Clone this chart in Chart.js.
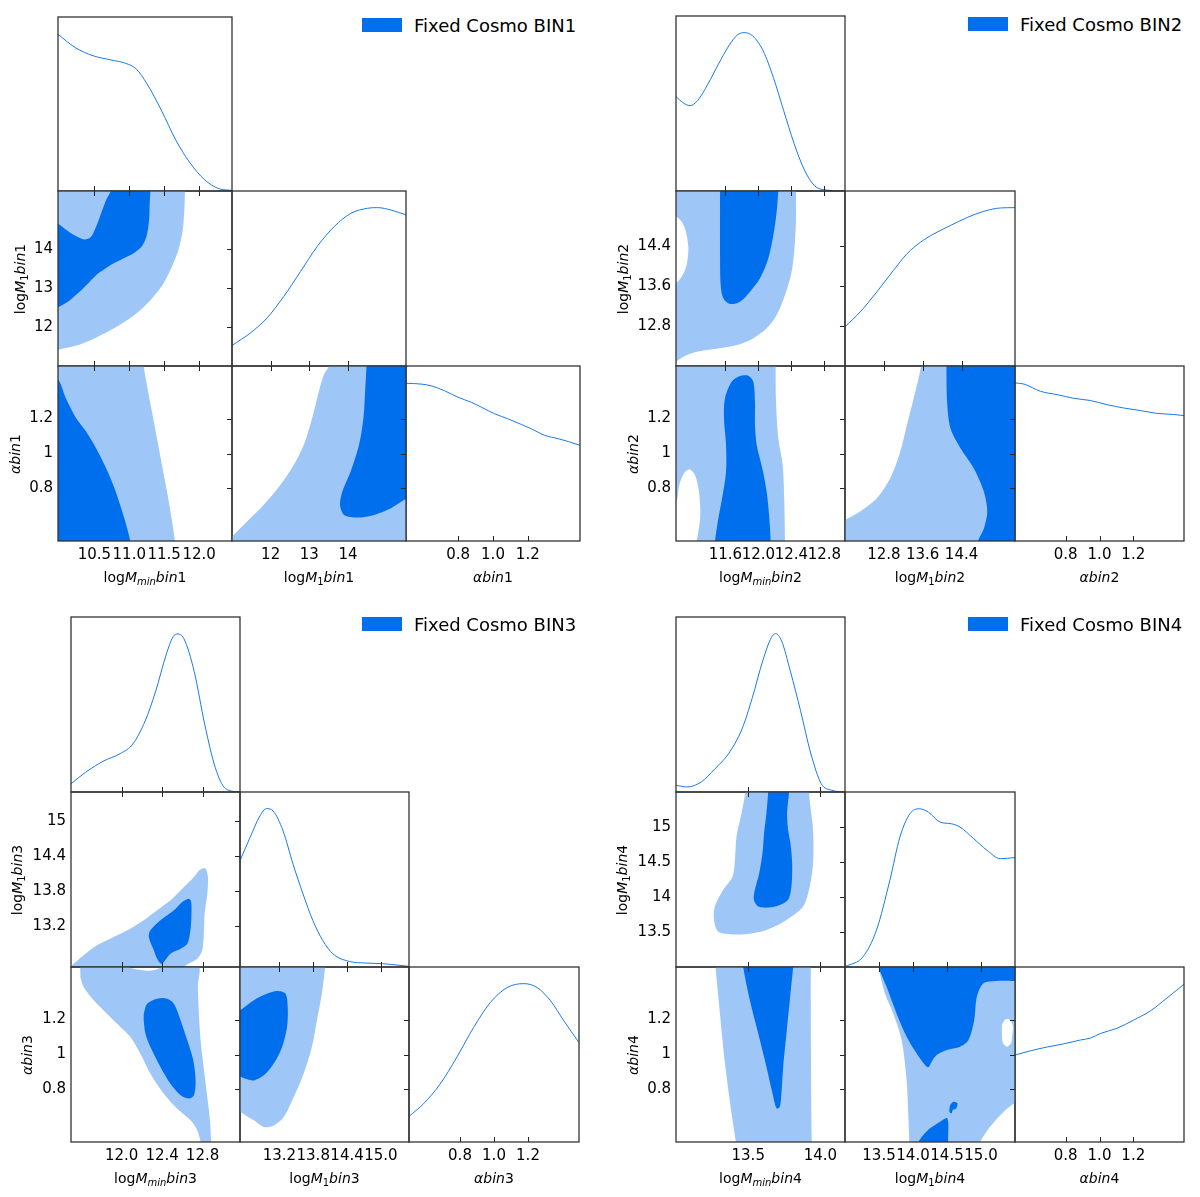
<!DOCTYPE html>
<html><head><meta charset="utf-8">
<script src="https://cdn.jsdelivr.net/npm/chart.js@4.4.0/dist/chart.umd.min.js"></script>
<style>
html,body{margin:0;padding:0;background:#fff;}
body{width:1200px;height:1197px;position:relative;overflow:hidden;font-family:'DejaVu Sans',sans-serif;}
canvas{position:absolute;}
.lab{position:absolute;font-size:14px;white-space:nowrap;color:#000;line-height:1;}
.lab sub{font-size:10px;vertical-align:baseline;position:relative;top:3px;}
.legbox{position:absolute;width:40px;height:14px;background:#006fed;}
.legtxt{position:absolute;font-size:18px;white-space:nowrap;color:#000;line-height:1;transform:translateY(-50%);}
</style></head>
<body>
<script>
// ---------------- axis ranges ----------------
const alphaRange=[0.5,1.5];
const pdfRange=[0,1.105];
const bin1MminRange=[9.98,12.47], bin1M1Range=[11.0,15.5];
const bin2MminRange=[11.0,13.05], bin2M1Range=[12.0,15.5];
const bin3MminRange=[11.5,13.17], bin3M1Range=[12.5,15.5];
const bin4MminRange=[13.0,14.17], bin4M1Range=[13.0,15.5];

// ---------------- ticks ----------------
const alphaTicks=[0.8,1.0,1.2], alphaYLabels=['0.8','1','1.2'], alphaXLabels=['0.8','1.0','1.2'];
const bin1MminTicks=[10.5,11.0,11.5,12.0], bin1MminLabels=['10.5','11.0','11.5','12.0'];
const bin1M1Ticks=[12,13,14], bin1M1YLabels=['12','13','14'], bin1M1XLabels=['12','13','14'];
const bin2MminTicks=[11.6,12.0,12.4,12.8], bin2MminLabels=['11.6','12.0','12.4','12.8'];
const bin2M1Ticks=[12.8,13.6,14.4], bin2M1YLabels=['12.8','13.6','14.4'], bin2M1XLabels=['12.8','13.6','14.4'];
const bin3MminTicks=[12.0,12.4,12.8], bin3MminLabels=['12.0','12.4','12.8'];
const bin3M1Ticks=[13.2,13.8,14.4,15.0], bin3M1YLabels=['13.2','13.8','14.4','15'], bin3M1XLabels=['13.2','13.8','14.4','15.0'];
const bin4MminTicks=[13.5,14.0], bin4MminLabels=['13.5','14.0'];
const bin4M1Ticks=[13.5,14.0,14.5,15.0], bin4M1YLabels=['13.5','14','14.5','15'], bin4M1XLabels=['13.5','14.0','14.5','15.0'];

// ---------------- 1D marginals (normalised to peak 1) ----------------
const bin1MminPdf=[[9.98,0.995],[10.226,0.911],[10.483,0.859],[10.74,0.832],[10.946,0.811],[11.10,0.775],[11.253,0.681],[11.459,0.513],[11.664,0.325],[11.87,0.178],[12.074,0.073],[12.28,0.015],[12.47,0.004]];
const bin1M1Pdf=[[11.0,0.13],[11.477,0.209],[11.909,0.304],[12.341,0.44],[12.773,0.597],[13.205,0.755],[13.642,0.88],[14.074,0.964],[14.506,0.996],[14.767,1.0],[15.109,0.985],[15.5,0.954]];
const bin1AlphaPdf=[[0.5,0.996],[0.587,0.991],[0.644,0.98],[0.721,0.949],[0.798,0.908],[0.875,0.876],[0.933,0.845],[1.01,0.803],[1.087,0.771],[1.163,0.736],[1.221,0.708],[1.298,0.667],[1.375,0.646],[1.433,0.628],[1.5,0.604]];
const bin2MminPdf=[[11.0,0.596],[11.076,0.561],[11.17,0.539],[11.262,0.571],[11.387,0.675],[11.515,0.801],[11.64,0.916],[11.744,0.985],[11.826,1.0],[11.931,0.979],[12.056,0.886],[12.181,0.717],[12.306,0.508],[12.433,0.299],[12.558,0.132],[12.683,0.032],[12.808,0.007],[13.05,0.0]];
const bin2M1Pdf=[[12.0,0.248],[12.312,0.341],[12.655,0.468],[12.998,0.604],[13.274,0.708],[13.551,0.781],[13.827,0.834],[14.17,0.887],[14.517,0.938],[14.86,0.977],[15.203,0.998],[15.5,1.0]];
const bin2AlphaPdf=[[0.5,0.998],[0.553,0.991],[0.651,0.945],[0.75,0.924],[0.848,0.901],[0.946,0.887],[1.044,0.861],[1.142,0.84],[1.241,0.824],[1.339,0.806],[1.437,0.799],[1.5,0.792]];
const bin3MminPdf=[[11.5,0.052],[11.645,0.125],[11.817,0.194],[11.991,0.244],[12.111,0.303],[12.233,0.449],[12.337,0.637],[12.44,0.866],[12.509,0.981],[12.55,0.998],[12.614,0.97],[12.717,0.762],[12.821,0.428],[12.925,0.156],[13.028,0.021],[13.17,0.0]];
const bin3M1Pdf=[[12.5,0.671],[12.677,0.817],[12.854,0.954],[12.971,1.0],[13.088,0.985],[13.265,0.859],[13.442,0.649],[13.619,0.461],[13.793,0.294],[13.97,0.167],[14.147,0.084],[14.441,0.035],[14.735,0.025],[15.029,0.021],[15.323,0.011],[15.5,0.004]];
const bin3AlphaPdf=[[0.5,0.162],[0.585,0.241],[0.683,0.366],[0.781,0.535],[0.88,0.723],[0.978,0.88],[1.077,0.975],[1.175,1.0],[1.254,0.975],[1.333,0.891],[1.411,0.765],[1.5,0.628]];
const bin4MminPdf=[[13.0,0.042],[13.078,0.032],[13.174,0.063],[13.269,0.146],[13.363,0.241],[13.457,0.398],[13.529,0.597],[13.6,0.827],[13.66,0.975],[13.689,1.0],[13.731,0.954],[13.791,0.765],[13.862,0.514],[13.934,0.241],[14.005,0.053],[14.078,0.011],[14.17,0.0]];
const bin4M1Pdf=[[13.0,0.002],[13.265,0.065],[13.463,0.233],[13.66,0.548],[13.808,0.821],[13.955,0.968],[14.093,0.999],[14.225,0.978],[14.398,0.915],[14.57,0.904],[14.693,0.883],[14.89,0.811],[15.088,0.737],[15.283,0.684],[15.5,0.691]];
const bin4AlphaPdf=[[0.5,0.549],[0.592,0.576],[0.691,0.6],[0.789,0.62],[0.887,0.644],[0.946,0.656],[1.005,0.685],[1.103,0.718],[1.201,0.769],[1.3,0.827],[1.398,0.908],[1.5,0.996]];

// ---------------- 2D contours (68% dark, 95% light) ----------------
// bin1
const b1_M1Mmin_95=[[9.85,11.30],[9.98,11.415],[10.235,11.518],[10.475,11.69],[10.716,11.906],[10.956,12.164],[11.148,12.422],[11.317,12.723],[11.485,13.11],[11.605,13.541],[11.701,13.971],[11.764,14.487],[11.788,15.004],[11.797,15.52],[11.80,15.69],[9.85,15.69]];
const b1_M1Mmin_68=[[9.85,12.42],[9.98,12.508],[10.14,12.68],[10.28,12.895],[10.427,13.153],[10.547,13.369],[10.619,13.455],[10.764,13.627],[10.908,13.756],[11.052,13.885],[11.172,14.057],[11.244,14.315],[11.283,14.745],[11.292,15.176],[11.302,15.52],[11.302,15.69],[10.74,15.69],[10.74,15.52],[10.667,15.262],[10.595,14.918],[10.523,14.573],[10.45,14.315],[10.355,14.255],[10.235,14.341],[10.09,14.513],[9.98,14.659],[9.85,14.745]];
const b1_AMmin_95=[[9.85,1.53],[11.206,1.53],[11.206,1.5],[11.268,1.357],[11.341,1.204],[11.413,1.051],[11.485,0.898],[11.557,0.745],[11.605,0.63],[11.653,0.5],[11.663,0.458],[9.85,0.458]];
const b1_AMmin_68=[[9.85,1.433],[9.98,1.424],[10.09,1.318],[10.235,1.204],[10.379,1.127],[10.523,1.032],[10.667,0.917],[10.788,0.802],[10.884,0.687],[10.956,0.592],[11.014,0.5],[11.023,0.458],[9.85,0.458]];
const b1_AM1_95=[[10.87,0.458],[10.87,0.5],[11.0,0.525],[11.389,0.611],[11.822,0.707],[12.254,0.821],[12.6,0.936],[12.86,1.051],[13.076,1.204],[13.249,1.357],[13.379,1.452],[13.509,1.5],[13.509,1.53],[15.63,1.53],[15.63,0.458]];
const b1_AM1_68=[[14.478,1.53],[14.478,1.5],[14.443,1.357],[14.4,1.204],[14.287,1.051],[14.071,0.898],[13.855,0.783],[13.794,0.707],[13.898,0.649],[14.244,0.634],[14.677,0.649],[15.109,0.687],[15.498,0.741],[15.63,0.754],[15.63,1.53]];
// bin2
const b2_M1Mmin_95=[[10.927,12.02],[11.0,12.087],[11.089,12.187],[11.21,12.267],[11.372,12.32],[11.574,12.367],[11.776,12.433],[11.938,12.553],[12.1,12.753],[12.221,13.02],[12.322,13.42],[12.403,13.887],[12.44,14.42],[12.456,14.953],[12.456,15.5],[12.464,15.62],[10.927,15.62]];
const b2_M1Mmin_hole=[[10.927,14.987],[11.0,14.987],[11.069,14.887],[11.121,14.687],[11.15,14.353],[11.129,14.02],[11.081,13.82],[11.0,13.653],[10.927,13.653]];
const b2_M1Mmin_68=[[11.534,15.62],[11.534,15.5],[11.534,14.953],[11.534,14.287],[11.542,13.62],[11.574,13.353],[11.655,13.24],[11.776,13.287],[11.898,13.487],[12.019,13.753],[12.12,14.153],[12.181,14.62],[12.221,15.087],[12.241,15.5],[12.241,15.62]];
const b2_AMmin_95=[[10.927,1.525],[12.209,1.525],[12.209,1.5],[12.213,1.296],[12.241,1.087],[12.294,0.934],[12.314,0.725],[12.322,0.5],[12.326,0.458],[10.927,0.458]];
const b2_AMmin_hole=[[10.927,0.706],[11.0,0.715],[11.04,0.82],[11.097,0.887],[11.162,0.91],[11.23,0.877],[11.279,0.782],[11.295,0.649],[11.271,0.553],[11.251,0.5],[11.243,0.458],[10.927,0.458]];
const b2_AMmin_68=[[11.465,0.458],[11.473,0.5],[11.514,0.63],[11.566,0.763],[11.607,0.896],[11.607,1.049],[11.582,1.201],[11.594,1.315],[11.675,1.41],[11.776,1.443],[11.877,1.445],[11.938,1.41],[11.958,1.296],[11.958,1.163],[11.979,1.049],[12.047,0.915],[12.1,0.782],[12.132,0.63],[12.148,0.5],[12.152,0.458]];
const b2_AM1_95=[[11.897,0.458],[11.897,0.61],[12.0,0.62],[12.31,0.668],[12.655,0.744],[12.93,0.858],[13.137,1.01],[13.275,1.163],[13.413,1.315],[13.516,1.43],[13.564,1.5],[13.571,1.525],[15.618,1.525],[15.618,0.458]];
const b2_AM1_68=[[14.088,1.525],[14.088,1.5],[14.102,1.296],[14.171,1.144],[14.378,1.03],[14.653,0.915],[14.86,0.782],[14.929,0.668],[14.86,0.572],[14.736,0.5],[14.708,0.458],[15.618,0.458],[15.618,1.525]];
// bin3
const b3_M1Mmin_95=[[11.477,12.471],[11.51,12.529],[11.625,12.7],[11.757,12.871],[11.922,13.014],[12.087,13.157],[12.219,13.3],[12.351,13.471],[12.483,13.643],[12.616,13.871],[12.715,14.043],[12.781,14.174],[12.83,14.186],[12.853,14.043],[12.847,13.757],[12.82,13.414],[12.814,13.129],[12.797,12.786],[12.748,12.643],[12.649,12.546],[12.583,12.471]];
const b3_M1Mmin_68=[[12.318,12.786],[12.269,13.014],[12.285,13.129],[12.384,13.3],[12.517,13.471],[12.599,13.614],[12.665,13.671],[12.688,13.614],[12.688,13.3],[12.675,13.071],[12.649,12.9],[12.583,12.814],[12.483,12.729],[12.417,12.586],[12.391,12.557],[12.351,12.643]];
const b3_AMmin_95=[[11.592,1.443],[11.625,1.386],[11.724,1.31],[11.856,1.233],[11.988,1.157],[12.087,1.1],[12.186,1.005],[12.285,0.89],[12.417,0.776],[12.55,0.69],[12.682,0.624],[12.748,0.567],[12.781,0.5],[12.787,0.471],[12.893,0.471],[12.886,0.5],[12.873,0.624],[12.847,0.757],[12.814,0.91],[12.781,1.081],[12.764,1.233],[12.754,1.386],[12.754,1.52],[12.39,1.52],[12.384,1.496],[12.285,1.479],[12.186,1.483],[12.071,1.498],[12.06,1.52],[11.61,1.52]];
const b3_AMmin_68=[[12.219,1.233],[12.252,1.29],[12.351,1.319],[12.45,1.319],[12.517,1.29],[12.583,1.195],[12.649,1.081],[12.708,0.967],[12.731,0.852],[12.715,0.767],[12.665,0.748],[12.583,0.767],[12.483,0.833],[12.384,0.929],[12.285,1.043],[12.236,1.119],[12.219,1.195]];
const b3_AM1_95=[[12.394,0.662],[12.5,0.671],[12.6,0.652],[12.747,0.624],[12.924,0.586],[13.1,0.595],[13.276,0.643],[13.453,0.757],[13.629,0.89],[13.776,1.043],[13.865,1.195],[13.953,1.348],[14.012,1.5],[14.018,1.529],[12.394,1.529]];
const b3_AM1_68=[[12.394,1.233],[12.5,1.252],[12.747,1.31],[12.982,1.348],[13.159,1.363],[13.306,1.348],[13.347,1.271],[13.335,1.157],[13.247,1.043],[13.1,0.948],[12.924,0.881],[12.747,0.852],[12.629,0.858],[12.5,0.875],[12.394,0.881]];
// bin4
const b4_M1Mmin_95=[[13.481,15.581],[13.481,15.5],[13.454,15.199],[13.419,14.865],[13.408,14.531],[13.392,14.293],[13.327,14.102],[13.269,13.864],[13.263,13.673],[13.292,13.506],[13.373,13.468],[13.488,13.472],[13.626,13.53],[13.765,13.673],[13.88,13.864],[13.926,14.15],[13.949,14.484],[13.949,14.961],[13.93,15.295],[13.921,15.5],[13.921,15.581]];
const b4_M1Mmin_68=[[13.638,15.581],[13.638,15.5],[13.626,15.199],[13.61,14.913],[13.599,14.627],[13.576,14.341],[13.546,14.102],[13.539,13.959],[13.569,13.864],[13.638,13.849],[13.719,13.887],[13.776,13.959],[13.799,14.15],[13.804,14.484],[13.792,14.77],[13.776,14.961],[13.769,15.199],[13.783,15.5],[13.783,15.581]];
const b4_AMmin_95=[[13.272,1.53],[13.274,1.5],[13.304,1.235],[13.339,0.95],[13.378,0.702],[13.415,0.5],[13.419,0.473],[13.942,0.473],[13.94,0.5],[13.937,0.664],[13.935,0.95],[13.933,1.235],[13.933,1.5],[13.933,1.53]];
const b4_AMmin_68=[[13.465,1.53],[13.465,1.5],[13.511,1.311],[13.569,1.121],[13.626,0.93],[13.668,0.778],[13.696,0.692],[13.719,0.702],[13.73,0.778],[13.742,0.93],[13.765,1.121],[13.788,1.311],[13.811,1.5],[13.811,1.53]];
const b4_AM1_95=[[13.492,1.53],[13.492,1.5],[13.586,1.35],[13.709,1.235],[13.832,1.083],[13.906,0.854],[13.93,0.664],[13.945,0.5],[13.945,0.473],[14.988,0.473],[14.988,0.5],[15.136,0.588],[15.333,0.673],[15.5,0.725],[15.579,0.74],[15.579,1.53]];
const b4_AM1_hole=[[15.308,1.169],[15.357,1.201],[15.431,1.197],[15.47,1.159],[15.456,1.102],[15.441,1.064],[15.382,1.045],[15.323,1.064],[15.308,1.111]];
const b4_AM1_68a=[[13.492,1.53],[13.492,1.5],[13.61,1.388],[13.758,1.235],[13.906,1.102],[14.053,1.007],[14.176,0.94],[14.225,0.927],[14.275,0.959],[14.348,0.997],[14.496,1.026],[14.693,1.045],[14.816,1.083],[14.9,1.197],[14.939,1.33],[15.037,1.407],[15.234,1.42],[15.5,1.42],[15.579,1.42],[15.579,1.53]];
const b4_AM1_68b=[[14.053,0.473],[14.078,0.5],[14.152,0.54],[14.25,0.578],[14.398,0.616],[14.506,0.635],[14.516,0.5],[14.516,0.473]];
const b4_AM1_68c=[[14.545,0.711],[14.594,0.73],[14.654,0.721],[14.634,0.692],[14.585,0.683],[14.57,0.664],[14.535,0.673]];

// ---------------- styling ----------------
const DARK='#006fed', LIGHT='#9ec6f6', HOLE='#ffffff', LINE='#1a78ec', SPINE='#333333';
const TICKFONT={family:'DejaVu Sans',size:15};

function toXY(p){return p.map(q=>({x:q[0],y:q[1]}));}
function poly(pts,color,order){
  const d=toXY(pts); d.push({x:pts[0][0],y:pts[0][1]});
  return {data:d,showLine:true,fill:'shape',backgroundColor:color,borderColor:'rgba(0,0,0,0)',borderWidth:0,pointRadius:0,tension:0.3,capBezierPoints:false,order:order};
}
function curve(pts){
  return {data:toXY(pts),showLine:true,fill:false,borderColor:LINE,borderWidth:1,pointRadius:0,cubicInterpolationMode:'monotone',order:0};
}
function contour(light,dark,holes){
  const ds=[];
  (holes||[]).forEach(h=>ds.push(poly(h,HOLE,0)));
  dark.forEach(d=>ds.push(poly(d,DARK,1)));
  ds.push(poly(light,LIGHT,2));
  return ds;
}

function framePlugin(o){
  return {id:'frame'+Math.random().toString(36).slice(2),
    afterDatasetsDraw(chart){
      const ctx=chart.ctx, a=chart.chartArea, xs=chart.scales.x, ys=chart.scales.y, T=5;
      ctx.save();
      ctx.strokeStyle='#222'; ctx.lineWidth=1;
      ctx.beginPath();
      (o.top||[]).forEach(v=>{const p=Math.round(xs.getPixelForValue(v))+0.5; ctx.moveTo(p,a.top); ctx.lineTo(p,a.top+T);});
      (o.bottom||[]).forEach(v=>{const p=Math.round(xs.getPixelForValue(v))+0.5; ctx.moveTo(p,a.bottom); ctx.lineTo(p,a.bottom-T);});
      (o.right||[]).forEach(v=>{const p=Math.round(ys.getPixelForValue(v))+0.5; ctx.moveTo(a.right,p); ctx.lineTo(a.right-T,p);});
      ctx.stroke();
      ctx.strokeStyle=SPINE; ctx.lineWidth=1.3;
      ctx.strokeRect(a.left,a.top,a.right-a.left,a.bottom-a.top);
      ctx.restore();
    }};
}

function panel(o){
  const P=2, L=o.yLabels?60:0, B=o.xLabels?30:0;
  const [l,t,w,h]=o.rect;
  const W=w+L+2*P, H=h+B+2*P;
  const c=document.createElement('canvas');
  c.width=W; c.height=H;
  c.style.left=(l-L-P)+'px'; c.style.top=(t-P)+'px';
  c.style.width=W+'px'; c.style.height=H+'px';
  document.body.appendChild(c);
  const zero=s=>{s.paddingLeft=0;s.paddingRight=0;s.paddingTop=0;s.paddingBottom=0;};
  new Chart(c,{type:'scatter',data:{datasets:o.datasets},
    options:{responsive:false,maintainAspectRatio:false,animation:false,events:[],
      layout:{padding:P},
      elements:{line:{capBezierPoints:false}},
      plugins:{legend:{display:false},tooltip:{enabled:false}},
      scales:{
        x:{type:'linear',position:'bottom',min:o.xr[0],max:o.xr[1],
          grid:{display:false,drawTicks:false},border:{display:false},
          ticks:{display:!!o.xLabels,font:TICKFONT,color:'#000',padding:5,maxRotation:0,autoSkip:false,
            callback:(v)=>{if(!o.xLabels)return '';const i=o.xTicks.findIndex(q=>Math.abs(q-v)<1e-9);return i<0?'':o.xLabels[i];}},
          afterBuildTicks:s=>{s.ticks=(o.xTicks||[]).map(v=>({value:v}));},
          afterFit:s=>{s.height=B;zero(s);}},
        y:{type:'linear',position:'left',min:o.yr[0],max:o.yr[1],
          grid:{display:false,drawTicks:false},border:{display:false},
          ticks:{display:!!o.yLabels,font:TICKFONT,color:'#000',padding:5,autoSkip:false,
            callback:(v)=>{if(!o.yLabels)return '';const i=o.yTicks.findIndex(q=>Math.abs(q-v)<1e-9);return i<0?'':o.yLabels[i];}},
          afterBuildTicks:s=>{s.ticks=(o.yTicks||[]).map(v=>({value:v}));},
          afterFit:s=>{s.width=L;zero(s);}}
      }},
    plugins:[framePlugin(o)]});
}

function addLabel(html,x,y,rot){
  const d=document.createElement('div'); d.className='lab'; d.innerHTML=html;
  d.style.left=x+'px'; d.style.top=y+'px';
  d.style.transform='translate(-50%,-50%)'+(rot?' rotate(-90deg)':'');
  document.body.appendChild(d);
}
function addLegend(text,x,y){
  const b=document.createElement('div'); b.className='legbox'; b.style.left=x+'px'; b.style.top=y+'px'; document.body.appendChild(b);
  const t=document.createElement('div'); t.className='legtxt'; t.textContent=text; t.style.left=(x+52)+'px'; t.style.top=(y+8)+'px'; document.body.appendChild(t);
}

const BINS=[
 {n:1,mr:bin1MminRange,m1r:bin1M1Range,mt:bin1MminTicks,ml:bin1MminLabels,m1t:bin1M1Ticks,m1yl:bin1M1YLabels,m1xl:bin1M1XLabels,
  pdf:[bin1MminPdf,bin1M1Pdf,bin1AlphaPdf],
  c21:contour(b1_M1Mmin_95,[b1_M1Mmin_68]),c31:contour(b1_AMmin_95,[b1_AMmin_68]),c32:contour(b1_AM1_95,[b1_AM1_68])},
 {n:2,mr:bin2MminRange,m1r:bin2M1Range,mt:bin2MminTicks,ml:bin2MminLabels,m1t:bin2M1Ticks,m1yl:bin2M1YLabels,m1xl:bin2M1XLabels,
  pdf:[bin2MminPdf,bin2M1Pdf,bin2AlphaPdf],
  c21:contour(b2_M1Mmin_95,[b2_M1Mmin_68],[b2_M1Mmin_hole]),c31:contour(b2_AMmin_95,[b2_AMmin_68],[b2_AMmin_hole]),c32:contour(b2_AM1_95,[b2_AM1_68])},
 {n:3,mr:bin3MminRange,m1r:bin3M1Range,mt:bin3MminTicks,ml:bin3MminLabels,m1t:bin3M1Ticks,m1yl:bin3M1YLabels,m1xl:bin3M1XLabels,
  pdf:[bin3MminPdf,bin3M1Pdf,bin3AlphaPdf],
  c21:contour(b3_M1Mmin_95,[b3_M1Mmin_68]),c31:contour(b3_AMmin_95,[b3_AMmin_68]),c32:contour(b3_AM1_95,[b3_AM1_68])},
 {n:4,mr:bin4MminRange,m1r:bin4M1Range,mt:bin4MminTicks,ml:bin4MminLabels,m1t:bin4M1Ticks,m1yl:bin4M1YLabels,m1xl:bin4M1XLabels,
  pdf:[bin4MminPdf,bin4M1Pdf,bin4AlphaPdf],
  c21:contour(b4_M1Mmin_95,[b4_M1Mmin_68]),c31:contour(b4_AMmin_95,[b4_AMmin_68]),c32:contour(b4_AM1_95,[b4_AM1_68a,b4_AM1_68b,b4_AM1_68c],[b4_AM1_hole])}
];

const LAYOUT=[
 {cols:[58,232,406,580],rows:[17,191,366,541],yOff:[38,43],leg:[362,18]},
 {cols:[676,845,1015,1184],rows:[16,191,366,541],yOff:[53,43],leg:[968,17]},
 {cols:[71,240,409,579],rows:[617,792,967,1142],yOff:[54,44],leg:[362,617]},
 {cols:[676,845,1015,1184],rows:[617,792,967,1142],yOff:[54,43],leg:[968,617]}
];

BINS.forEach((b,k)=>{
  const g=LAYOUT[k], C=g.cols, R=g.rows;
  const rect=(r,c)=>[C[c],R[r],C[c+1]-C[c],R[r+1]-R[r]];
  // diagonal
  panel({rect:rect(0,0),xr:b.mr,yr:pdfRange,xTicks:b.mt,bottom:b.mt,datasets:[curve(b.pdf[0])]});
  panel({rect:rect(1,1),xr:b.m1r,yr:pdfRange,xTicks:b.m1t,bottom:b.m1t,datasets:[curve(b.pdf[1])]});
  panel({rect:rect(2,2),xr:alphaRange,yr:pdfRange,xTicks:alphaTicks,xLabels:alphaXLabels,bottom:alphaTicks,datasets:[curve(b.pdf[2])]});
  // 2D
  panel({rect:rect(1,0),xr:b.mr,yr:b.m1r,xTicks:b.mt,yTicks:b.m1t,yLabels:b.m1yl,top:b.mt,bottom:b.mt,right:b.m1t,datasets:b.c21});
  panel({rect:rect(2,0),xr:b.mr,yr:alphaRange,xTicks:b.mt,xLabels:b.ml,yTicks:alphaTicks,yLabels:alphaYLabels,top:b.mt,right:alphaTicks,datasets:b.c31});
  panel({rect:rect(2,1),xr:b.m1r,yr:alphaRange,xTicks:b.m1t,xLabels:b.m1xl,top:b.m1t,right:alphaTicks,datasets:b.c32});
  // axis titles
  const n=b.n, yT=R[3]+35.5;
  addLabel('log<i>M</i><sub><i>min</i></sub><i>bin</i>'+n,(C[0]+C[1])/2,yT,false);
  addLabel('log<i>M</i><sub>1</sub><i>bin</i>'+n,(C[1]+C[2])/2,yT,false);
  addLabel('<i>\u03b1bin</i>'+n,(C[2]+C[3])/2,yT,false);
  addLabel('log<i>M</i><sub>1</sub><i>bin</i>'+n,C[0]-g.yOff[0],(R[1]+R[2])/2,true);
  addLabel('<i>\u03b1bin</i>'+n,C[0]-g.yOff[1],(R[2]+R[3])/2,true);
  addLegend('Fixed Cosmo BIN'+n,g.leg[0],g.leg[1]);
});
</script>
</body></html>
